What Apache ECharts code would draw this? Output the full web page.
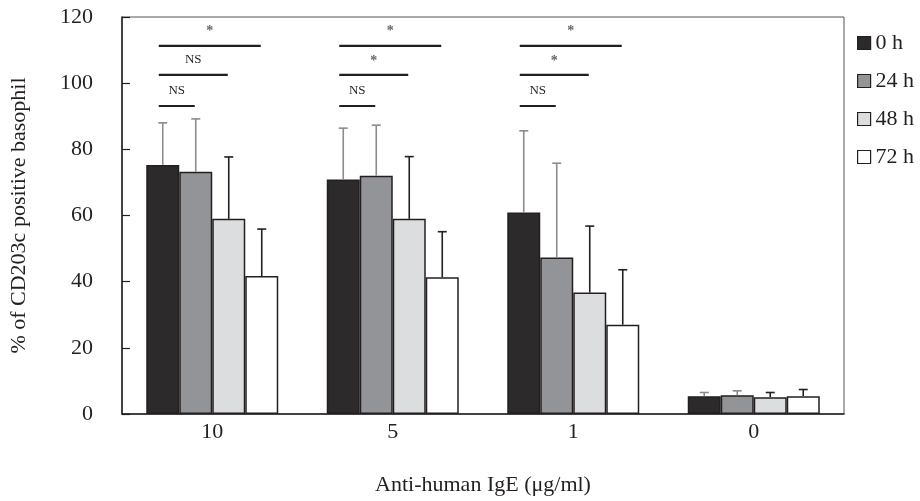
<!DOCTYPE html>
<html>
<head>
<meta charset="utf-8">
<script src="https://cdn.jsdelivr.net/npm/echarts@6/dist/echarts.min.js"></script>
<style>html,body{margin:0;padding:0;background:#fff}#c{width:920px;height:501px}</style>
</head>
<body>
<div id="c"></div>
<script>
var categories = ['10', '5', '1', '0'];
var seriesNames = ['0 h', '24 h', '48 h', '72 h'];
var mean0h  = [75.3, 70.9, 60.9, 5.4];
var mean24h = [73.2, 72.0, 47.3, 5.7];
var mean48h = [59.0, 59.0, 36.7, 5.1];
var mean72h = [41.7, 41.3, 27.0, 5.4];
var errTop0h  = [88.0, 86.4, 85.6, 6.5];
var errTop24h = [89.2, 87.3, 75.8, 7.0];
var errTop48h = [77.7, 77.8, 56.8, 6.5];
var errTop72h = [55.9, 55.1, 43.6, 7.4];
var yTicks = [0, 20, 40, 60, 80, 100, 120];
// significance: category index, compared-to series index, bracket level, label
var sigCat   = [0, 0, 0, 1, 1, 1, 2, 2, 2];
var sigTo    = [1, 2, 3, 1, 2, 3, 1, 2, 3];
var sigLevel = [93.1, 102.5, 111.3, 93.1, 102.5, 111.3, 93.1, 102.5, 111.3];
var sigLabel = ['NS', 'NS', '*', 'NS', '*', '*', 'NS', '*', '*'];

var means = [mean0h, mean24h, mean48h, mean72h];
var errs = [errTop0h, errTop24h, errTop48h, errTop72h];
var fills = ['#2d2a2b', '#939497', '#dcdddf', '#ffffff'];
var errColors = ['#8c8c8c', '#8c8c8c', '#231f20', '#231f20'];
var BAR_W = 33;
var FONT = '"Liberation Serif", "Times New Roman", serif';

var series = [];
for (var s = 0; s < 4; s++) {
  series.push({
    name: seriesNames[s], type: 'bar', data: means[s], barWidth: BAR_W, barGap: '0%',
    itemStyle: { color: fills[s], borderColor: '#231f20', borderWidth: 1.5 },
    z: 2, silent: true
  });
}
for (var s2 = 0; s2 < 4; s2++) {
  (function (si) {
    var d = [];
    for (var i = 0; i < categories.length; i++) d.push([i, means[si][i], errs[si][i]]);
    series.push({
      type: 'custom', data: d, z: 3, silent: true,
      renderItem: function (params, api) {
        var idx = api.value(0);
        var base = api.coord([idx, api.value(1)]);
        var top = api.coord([idx, api.value(2)]);
        var x = base[0] + (si - 1.5) * BAR_W;
        var st = { stroke: errColors[si], lineWidth: 1.6 };
        return { type: 'group', children: [
          { type: 'line', shape: { x1: x, y1: base[1], x2: x, y2: top[1] }, style: st },
          { type: 'line', shape: { x1: x - 4.5, y1: top[1], x2: x + 4.5, y2: top[1] }, style: st }
        ]};
      }
    });
  })(s2);
}
var sigData = [];
for (var k = 0; k < sigCat.length; k++) sigData.push([sigCat[k], sigLevel[k], sigTo[k], k]);
series.push({
  type: 'custom', data: sigData, z: 4, silent: true,
  renderItem: function (params, api) {
    var c = api.coord([api.value(0), api.value(1)]);
    var to = api.value(2);
    var lab = sigLabel[api.value(3)];
    var x1 = c[0] - 1.5 * BAR_W - 4;
    var x2 = c[0] + (to - 1.5) * BAR_W - 1;
    var star = lab === '*';
    return { type: 'group', children: [
      { type: 'line', shape: { x1: x1, y1: c[1], x2: x2, y2: c[1] }, style: { stroke: '#231f20', lineWidth: 2.2 } },
      { type: 'text', x: (x1 + x2) / 2, y: c[1] - (star ? 14 : 15),
        style: { text: lab, fill: star ? '#666' : '#231f20', font: (star ? 'bold 14px ' : '13px ') + FONT, align: 'center', verticalAlign: 'middle' } }
    ]};
  }
});

var chart = echarts.init(document.getElementById('c'), null, { renderer: 'canvas' });
chart.setOption({
  animation: false,
  backgroundColor: '#fff',
  textStyle: { fontFamily: FONT },
  grid: { left: 119, right: 76, top: 17, bottom: 82, show: true, borderColor: '#555', borderWidth: 1 },
  legend: {
    orient: 'vertical', left: 852, top: 26, itemWidth: 13, itemHeight: 13, itemGap: 14, itemTextGap: 4,
    icon: 'rect',
    data: seriesNames, selectedMode: false,
    textStyle: { fontFamily: FONT, fontSize: 22, color: '#231f20', lineHeight: 24 },
    itemStyle: { borderColor: '#231f20', borderWidth: 1.2 }
  },
  xAxis: {
    type: 'category', data: categories,
    axisLine: { lineStyle: { color: '#231f20', width: 1.5 } },
    axisTick: { show: false },
    axisLabel: { fontFamily: FONT, fontSize: 22, color: '#231f20', margin: 7 },
    name: 'Anti-human IgE (μg/ml)', nameLocation: 'middle', nameGap: 60,
    nameTextStyle: { fontFamily: FONT, fontSize: 22, color: '#231f20' }
  },
  yAxis: {
    type: 'value', min: 0, max: 120, interval: 20,
    axisLine: { show: true, lineStyle: { color: '#231f20', width: 1.5 } },
    axisTick: { show: true, inside: true, length: 8, lineStyle: { color: '#231f20', width: 1.2 } },
    splitLine: { show: false },
    axisLabel: { fontFamily: FONT, fontSize: 22, color: '#231f20', margin: 29,
      formatter: function (v) { return yTicks.indexOf(v) >= 0 ? String(v) : ''; } },
    name: '% of CD203c positive basophil', nameLocation: 'middle', nameGap: 92,
    nameTextStyle: { fontFamily: FONT, fontSize: 22, color: '#231f20' }
  },
  series: series
});
</script>
</body>
</html>
